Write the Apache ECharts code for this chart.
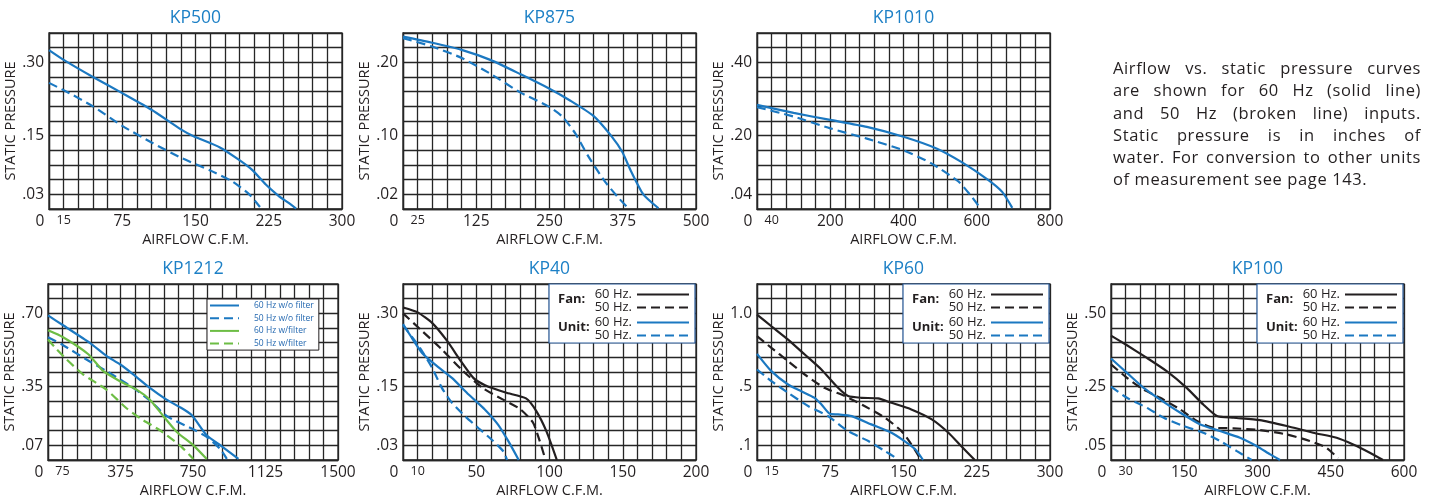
<!DOCTYPE html>
<html>
<head>
<meta charset="utf-8">
<script src="https://cdn.jsdelivr.net/npm/echarts@6/dist/echarts.min.js"></script>
<style>
  html, body { margin: 0; padding: 0; background: #fff; }
  #chart { position: absolute; left: 0; top: 0; width: 1429px; height: 498px; }
  #note { position: absolute; left: 1113px; top: 57px; width: 308px;
          font-family: "Open Sans", sans-serif; font-size: 16.5px; line-height: 22.3px;
          letter-spacing: 0.6px; color: #231f20; }
  #note div { text-align: justify; text-align-last: justify; }
  #note div.last { text-align: left; text-align-last: left; }
</style>
</head>
<body>
<div id="chart"></div>
<div id="note">
  <div>Airflow vs. static pressure curves</div>
  <div>are shown for 60 Hz (solid line)</div>
  <div>and 50 Hz (broken line) inputs.</div>
  <div>Static pressure is in inches of</div>
  <div>water. For conversion to other units</div>
  <div class="last">of measurement see page 143.</div>
</div>
<script>
// ---------------- DATA ----------------
// KP500
const kp500XTicks = [0, 15, 75, 150, 225, 300];
const kp500YTicks = ['.30', '.15', '.03'];
const kp500_60Hz = [[0,0.325],[15,0.305],[45,0.27],[75,0.237],[105,0.203],[135,0.163],[148,0.149],[175,0.126],[195,0.1],[208,0.08],[222,0.05],[235,0.027],[245,0.013],[253,0.001]];
const kp500_50Hz = [[0,0.258],[18,0.24],[45,0.21],[75,0.17],[105,0.136],[135,0.105],[165,0.079],[188,0.056],[205,0.03],[216,0.004]];

// KP875
const kp875XTicks = [0, 25, 125, 250, 375, 500];
const kp875YTicks = ['.20', '.10', '.02'];
const kp875_60Hz = [[0,0.235],[48,0.227],[100,0.217],[150,0.203],[200,0.184],[250,0.164],[285,0.148],[325,0.127],[355,0.1],[374,0.078],[390,0.05],[410,0.02],[436,0.001]];
const kp875_50Hz = [[0,0.233],[48,0.222],[100,0.206],[150,0.184],[200,0.159],[248,0.14],[272,0.126],[294,0.103],[316,0.072],[345,0.037],[368,0.015],[382,0.003]];

// KP1010
const kp1010XTicks = [0, 40, 200, 400, 600, 800];
const kp1010YTicks = ['.40', '.20', '.04'];
const kp1010_60Hz = [[0,0.284],[100,0.262],[200,0.243],[300,0.224],[400,0.197],[490,0.165],[560,0.127],[630,0.08],[670,0.046],[697,0.003]];
const kp1010_50Hz = [[0,0.278],[100,0.252],[200,0.22],[300,0.192],[400,0.16],[475,0.125],[550,0.075],[585,0.035],[604,0.01]];

// KP1212
const kp1212XTicks = [0, 75, 375, 750, 1125, 1500];
const kp1212YTicks = ['.70', '.35', '.07'];
const kp1212_60HzNoFilter = [[0,0.69],[78,0.643],[216,0.559],[302,0.497],[372,0.457],[441,0.409],[527,0.344],[613,0.288],[683,0.252],[743,0.215],[821,0.118],[899,0.065],[985,0.005]];
const kp1212_50HzNoFilter = [[0,0.586],[78,0.548],[216,0.47],[302,0.425],[441,0.344],[527,0.284],[613,0.21],[743,0.15],[821,0.11],[890,0.053],[925,0.005]];
const kp1212_60HzFilter = [[0,0.619],[78,0.586],[207,0.506],[285,0.425],[372,0.376],[458,0.336],[527,0.288],[596,0.21],[666,0.134],[752,0.07],[821,0.005]];
const kp1212_50HzFilter = [[0,0.575],[43,0.53],[95,0.481],[181,0.409],[302,0.336],[406,0.247],[492,0.19],[579,0.142],[682,0.07],[752,0.005]];

// KP40
const kp40XTicks = [0, 10, 50, 100, 150, 200];
const kp40YTicks = ['.30', '.15', '.03'];
const kp40_fan60 = [[0,0.312],[10,0.302],[20,0.28],[30,0.244],[40,0.2],[48,0.168],[56,0.153],[70,0.138],[84,0.126],[91,0.1],[98,0.058],[105,0]];
const kp40_fan50 = [[0,0.3],[13,0.264],[26.6,0.226],[40,0.185],[54,0.148],[68,0.124],[80,0.104],[89,0.075],[97,0.003]];
const kp40_unit60 = [[0,0.278],[6,0.25],[13,0.219],[22,0.195],[33.4,0.168],[44.8,0.134],[56,0.103],[65,0.072],[72,0.038],[79,0]];
const kp40_unit50 = [[0,0.276],[7.3,0.247],[13,0.223],[19.8,0.189],[26.6,0.147],[33.4,0.117],[42.5,0.089],[51.6,0.065],[60.8,0.041],[68.7,0.017],[71,0]];

// KP60
const kp60XTicks = [0, 15, 75, 150, 225, 300];
const kp60YTicks = ['1.0', '.5', '.1'];
const kp60_fan60 = [[0,0.991],[14.7,0.912],[31.8,0.821],[48.9,0.719],[65.9,0.617],[83,0.492],[93.3,0.436],[107,0.424],[124,0.42],[137.7,0.39],[158,0.345],[179,0.277],[196,0.186],[209,0.095],[223,0]];
const kp60_fan50 = [[0,0.844],[14.7,0.765],[31.8,0.674],[48.9,0.583],[69,0.492],[90,0.436],[110,0.368],[131,0.288],[148,0.197],[158,0.107],[168,0]];
const kp60_unit60 = [[0,0.724],[14.7,0.606],[31.8,0.515],[45,0.47],[59,0.424],[66,0.379],[74.5,0.315],[83,0.311],[97,0.299],[117,0.243],[137.7,0.186],[151,0.129],[162,0.073],[170,0]];
const kp60_unit50 = [[0,0.617],[14.7,0.538],[31.8,0.458],[52.3,0.368],[72.8,0.299],[93.3,0.197],[114,0.129],[131,0.061],[143,0.011]];

// KP100
const kp100XTicks = [0, 30, 150, 300, 450, 600];
const kp100YTicks = ['.50', '.25', '.05'];
const kp100_fan60 = [[0,0.424],[32.7,0.391],[73.6,0.348],[114,0.303],[155,0.246],[189,0.189],[217,0.15],[251,0.144],[305,0.136],[360,0.116],[414,0.093],[462,0.076],[496,0.053],[530,0.025],[557,0]];
const kp100_fan50 = [[0,0.326],[32.7,0.28],[66.8,0.24],[100.8,0.212],[142,0.172],[176,0.133],[210,0.11],[251,0.108],[305,0.102],[360,0.087],[407,0.065],[441,0.042],[465,0.006]];
const kp100_unit60 = [[0,0.346],[32.7,0.297],[66.8,0.246],[100.8,0.206],[142,0.161],[183,0.121],[223,0.099],[264,0.076],[298,0.048],[326,0.019],[346,0]];
const kp100_unit50 = [[0,0.25],[32.7,0.212],[73.6,0.178],[108,0.144],[148.5,0.116],[189,0.093],[223,0.065],[257,0.031],[288,0]];

// ---------------- STYLE ----------------
const W = 1429;
const BLUE = '#1b78c1', TITLE_BLUE = '#1d80c6', GREEN = '#6dbd45', BLACK = '#231f20';
const GRIDC = '#262626', TXT = '#231f20', LEG_BORDER = '#2a5c9c', LEG_TXT_BLUE = '#2468b0';
const FONT = '"Open Sans", sans-serif';
const DASH = [9, 5];

const panels = [
  { title: 'KP500', left: 49, top: 33, width: 293, height: 176, xMax: 300, xStep: 15, yMax: 0.36, yStep: 0.03,
    xTicks: kp500XTicks, yTicks: kp500YTicks,
    series: [ { name: 'KP500 60 Hz', data: kp500_60Hz, color: BLUE, dash: false },
              { name: 'KP500 50 Hz', data: kp500_50Hz, color: BLUE, dash: true } ] },
  { title: 'KP875', left: 403, top: 33, width: 293, height: 176, xMax: 500, xStep: 25, yMax: 0.24, yStep: 0.02,
    xTicks: kp875XTicks, yTicks: kp875YTicks,
    series: [ { name: 'KP875 60 Hz', data: kp875_60Hz, color: BLUE, dash: false },
              { name: 'KP875 50 Hz', data: kp875_50Hz, color: BLUE, dash: true } ] },
  { title: 'KP1010', left: 757, top: 33, width: 293, height: 176, xMax: 800, xStep: 40, yMax: 0.48, yStep: 0.04,
    xTicks: kp1010XTicks, yTicks: kp1010YTicks,
    series: [ { name: 'KP1010 60 Hz', data: kp1010_60Hz, color: BLUE, dash: false },
              { name: 'KP1010 50 Hz', data: kp1010_50Hz, color: BLUE, dash: true } ] },
  { title: 'KP1212', left: 48, top: 284, width: 290, height: 176, xMax: 1500, xStep: 75, yMax: 0.84, yStep: 0.07,
    xTicks: kp1212XTicks, yTicks: kp1212YTicks, legend: 'filter',
    series: [ { name: '60 Hz w/o filter', data: kp1212_60HzNoFilter, color: BLUE, dash: false },
              { name: '50 Hz w/o filter', data: kp1212_50HzNoFilter, color: BLUE, dash: true },
              { name: '60 Hz w/filter', data: kp1212_60HzFilter, color: GREEN, dash: false },
              { name: '50 Hz w/filter', data: kp1212_50HzFilter, color: GREEN, dash: true } ] },
  { title: 'KP40', left: 403, top: 284, width: 293, height: 176, xMax: 200, xStep: 10, yMax: 0.36, yStep: 0.03,
    xTicks: kp40XTicks, yTicks: kp40YTicks, legend: 'fanunit',
    series: [ { name: 'KP40 Fan 60 Hz.', data: kp40_fan60, color: BLACK, dash: false },
              { name: 'KP40 Fan 50 Hz.', data: kp40_fan50, color: BLACK, dash: true },
              { name: 'KP40 Unit 60 Hz.', data: kp40_unit60, color: BLUE, dash: false },
              { name: 'KP40 Unit 50 Hz.', data: kp40_unit50, color: BLUE, dash: true } ] },
  { title: 'KP60', left: 757, top: 284, width: 293, height: 176, xMax: 300, xStep: 15, yMax: 1.2, yStep: 0.1,
    xTicks: kp60XTicks, yTicks: kp60YTicks, legend: 'fanunit',
    series: [ { name: 'KP60 Fan 60 Hz.', data: kp60_fan60, color: BLACK, dash: false },
              { name: 'KP60 Fan 50 Hz.', data: kp60_fan50, color: BLACK, dash: true },
              { name: 'KP60 Unit 60 Hz.', data: kp60_unit60, color: BLUE, dash: false },
              { name: 'KP60 Unit 50 Hz.', data: kp60_unit50, color: BLUE, dash: true } ] },
  { title: 'KP100', left: 1111, top: 284, width: 293, height: 176, xMax: 600, xStep: 30, yMax: 0.6, yStep: 0.05,
    xTicks: kp100XTicks, yTicks: kp100YTicks, legend: 'fanunit',
    series: [ { name: 'KP100 Fan 60 Hz.', data: kp100_fan60, color: BLACK, dash: false },
              { name: 'KP100 Fan 50 Hz.', data: kp100_fan50, color: BLACK, dash: true },
              { name: 'KP100 Unit 60 Hz.', data: kp100_unit60, color: BLUE, dash: false },
              { name: 'KP100 Unit 50 Hz.', data: kp100_unit50, color: BLUE, dash: true } ] }
];

function near(a, b) { return Math.abs(a - b) < 1e-6; }
function xFmt(ticks) {
  return function (v) {
    if (near(v, ticks[0])) return '{z|' + ticks[0] + '}';
    if (near(v, ticks[1])) return '{s|' + ticks[1] + '}';
    for (let k = 2; k < ticks.length; k++) if (near(v, ticks[k])) return String(ticks[k]);
    return '';
  };
}
function yFmt(labels) {
  const vals = labels.map(parseFloat);
  return function (v) {
    const k = vals.findIndex(t => near(t, v));
    return k >= 0 ? labels[k] : '';
  };
}

const option = { animation: false, backgroundColor: '#fff', title: [], grid: [], xAxis: [], yAxis: [], series: [], legend: [], graphic: [] };

panels.forEach((p, i) => {
  option.grid.push({ left: p.left, top: p.top, width: p.width, height: p.height, show: true,
    borderColor: GRIDC, borderWidth: 1.3, backgroundColor: '#fff', containLabel: false, outerBoundsMode: 'none' });
  option.title.push({ text: p.title, left: p.left + p.width / 2, top: p.top - 24, textAlign: 'center', padding: 0,
    textStyle: { color: TITLE_BLUE, fontSize: 17.5, fontWeight: 'normal', fontFamily: FONT } });
  option.xAxis.push({ gridIndex: i, type: 'value', min: 0, max: p.xMax, interval: p.xStep,
    axisLine: { show: true, onZero: false, lineStyle: { color: GRIDC, width: 1.3 } },
    axisTick: { show: false },
    splitLine: { show: true, lineStyle: { color: GRIDC, width: 1.3 } },
    axisLabel: { show: true, margin: 5, color: TXT, fontSize: 15.5, fontFamily: FONT, formatter: xFmt(p.xTicks),
      rich: { z: { fontSize: 15.5, fontFamily: FONT, color: TXT, padding: [0, 18, 0, 0] },
              s: { fontSize: 12.5, fontFamily: FONT, color: TXT } } },
    name: 'AIRFLOW C.F.M.', nameLocation: 'middle', nameGap: 23,
    nameTextStyle: { fontSize: 14.5, color: TXT, fontFamily: FONT } });
  option.yAxis.push({ gridIndex: i, type: 'value', min: 0, max: p.yMax, interval: p.yStep,
    axisLine: { show: true, onZero: false, lineStyle: { color: GRIDC, width: 1.3 } },
    axisTick: { show: false },
    splitLine: { show: true, lineStyle: { color: GRIDC, width: 1.3 } },
    axisLabel: { show: true, margin: 5, color: TXT, fontSize: 15.5, fontFamily: FONT, formatter: yFmt(p.yTicks) },
    name: 'STATIC PRESSURE', nameLocation: 'middle', nameGap: 31, nameRotate: 90,
    nameTextStyle: { fontSize: 14.5, color: TXT, fontFamily: FONT } });
  p.series.forEach(s => {
    option.series.push({ type: 'line', name: s.name, xAxisIndex: i, yAxisIndex: i, data: s.data,
      symbol: 'none', showSymbol: false, smooth: 0.2, silent: true, z: 3,
      lineStyle: { color: s.color, width: 2.2, type: s.dash ? DASH : 'solid' }, itemStyle: { color: s.color } });
  });
  const gr = p.left + p.width;
  if (p.legend === 'fanunit') {
    const names = p.series.map(s => s.name);
    const mk = (data, top) => ({ orient: 'vertical', align: 'right', right: W - (gr - 6), top: p.top + top, padding: 0,
      itemWidth: 52, itemHeight: 10, itemGap: 0, selectedMode: false, data: data, z: 10,
      formatter: n => n.split(' ').slice(2).join(' '),
      textStyle: { fontSize: 13, color: TXT, fontFamily: FONT, lineHeight: 12 },
      itemStyle: { opacity: 0, color: 'rgba(0,0,0,0)', borderWidth: 0 } });
    option.legend.push(mk(names.slice(0, 2), 4));
    option.legend.push(mk(names.slice(2, 4), 32));
    option.graphic.push({ type: 'rect', z: 5, shape: { x: gr - 147, y: p.top, width: 146, height: 59 },
      style: { fill: '#fff', stroke: LEG_BORDER, lineWidth: 1.2 } });
    option.graphic.push({ type: 'text', z: 10, x: gr - 138, y: p.top + 15,
      style: { text: 'Fan:', fill: TXT, font: 'bold 13px "Open Sans"', verticalAlign: 'middle' } });
    option.graphic.push({ type: 'text', z: 10, x: gr - 138, y: p.top + 43,
      style: { text: 'Unit:', fill: TXT, font: 'bold 13px "Open Sans"', verticalAlign: 'middle' } });
  } else if (p.legend === 'filter') {
    option.legend.push({ orient: 'vertical', left: p.left + 159, top: p.top + 15, padding: [2, 5, 2, 2],
      itemWidth: 29, itemHeight: 8, itemGap: 3.7, selectedMode: false, z: 10,
      borderColor: BLACK, borderWidth: 1, backgroundColor: '#fff',
      data: p.series.map(s => s.name),
      formatter: n => '{p|' + n + '}',
      textStyle: { fontSize: 8.5, color: LEG_TXT_BLUE, fontFamily: FONT, lineHeight: 8,
        rich: { p: { fontSize: 8.5, color: LEG_TXT_BLUE, fontFamily: FONT, lineHeight: 8, padding: [0, 0, 0, 10] } } },
      itemStyle: { opacity: 0, color: 'rgba(0,0,0,0)', borderWidth: 0 } });
  }
});

const chart = echarts.init(document.getElementById('chart'), null, { renderer: 'canvas' });
chart.setOption(option);
</script>
</body>
</html>
